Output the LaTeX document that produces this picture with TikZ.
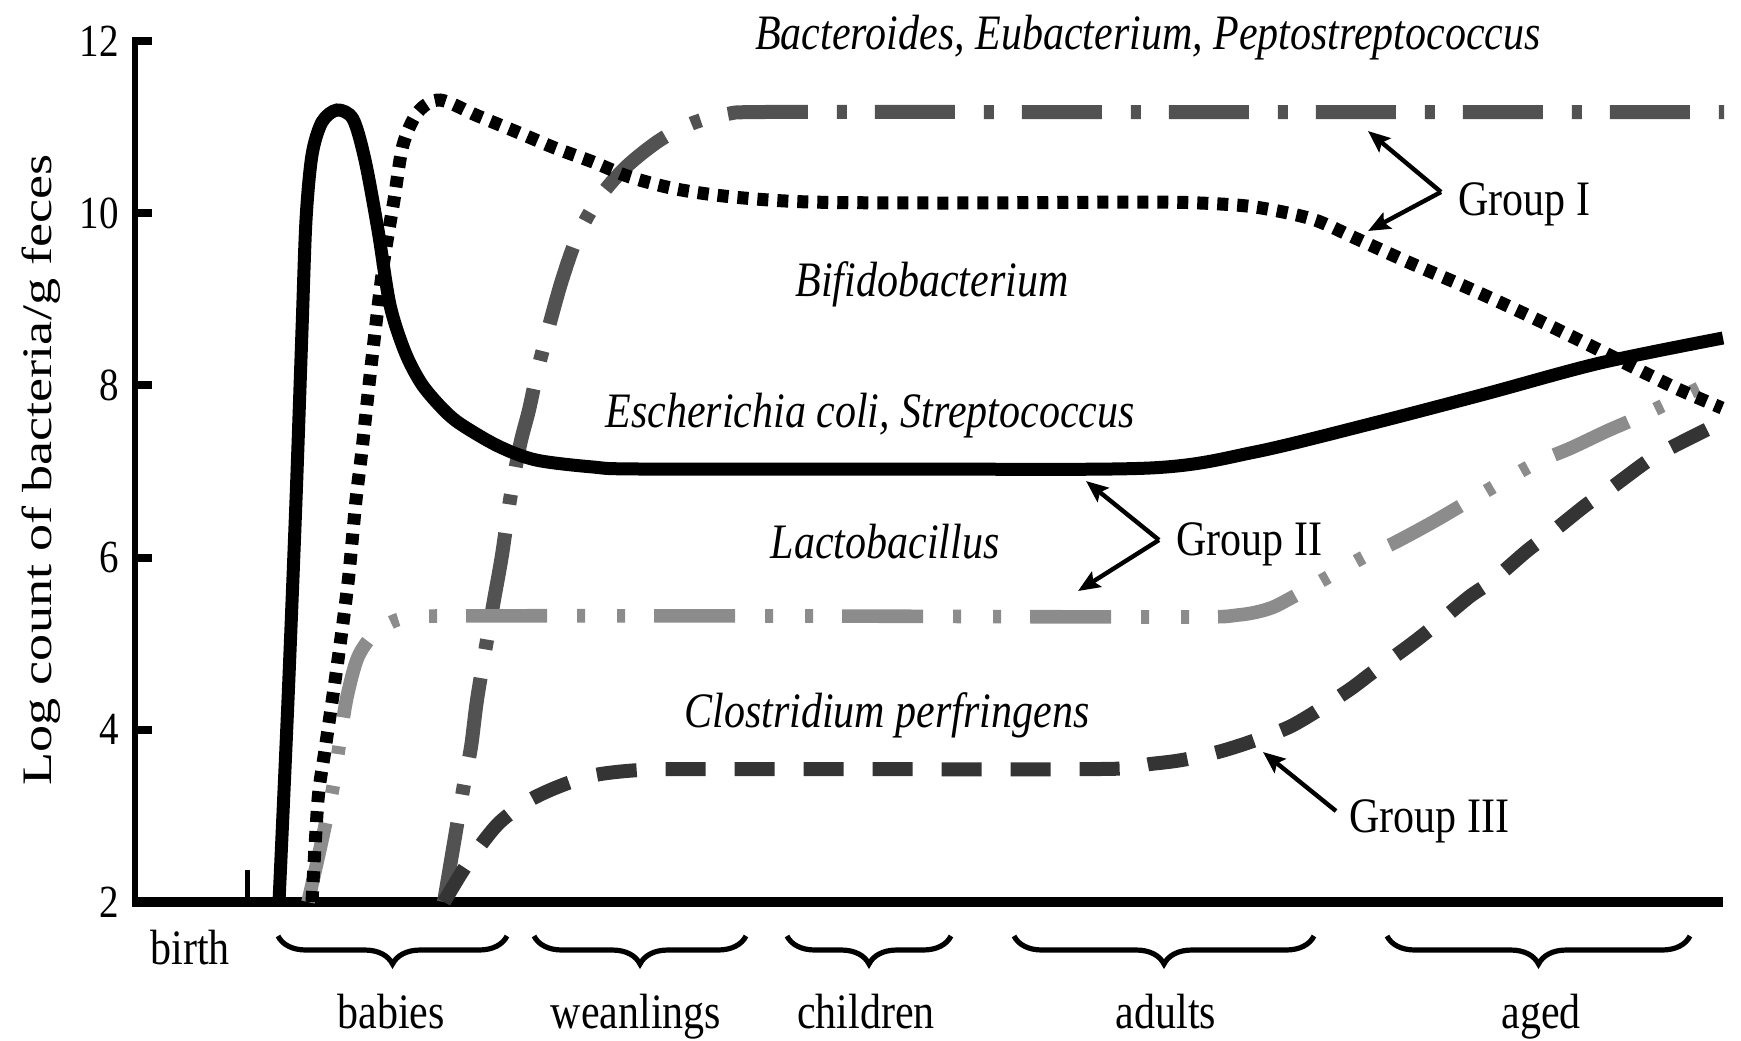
\documentclass[tikz,border=0pt]{standalone}
\usepackage{fontspec}
\setmainfont{Liberation Serif}
\usetikzlibrary{arrows.meta,decorations.pathreplacing}
% text in this figure is set slightly taller than wide
\newcommand{\vstretch}[1]{\scalebox{1}[1.18]{#1}}
\definecolor{bactgray}{RGB}{82,82,82}
\definecolor{lactgray}{RGB}{140,140,140}
\definecolor{closgray}{RGB}{52,52,52}
\tikzset{
  lbl/.style={inner sep=0pt, font=\fontsize{21}{25}\selectfont},
  species/.style={inner sep=0pt, anchor=base, font=\fontsize{21}{25}\selectfont\itshape},
  ticklbl/.style={inner sep=0pt, anchor=base east, font=\fontsize{19.5}{24}\selectfont},
  yaxisline/.style={line width=3.4pt},
  xaxisline/.style={line width=5pt},
  tickmark/.style={line width=4pt},
  curveE/.style={line width=6.5pt, black},
  curveBifido/.style={line width=6.5pt, black, dash pattern=on 5.5pt off 4.5pt},
  curveBact/.style={line width=7pt, bactgray, dash pattern=on 40pt off 14.5pt on 5pt off 14pt},
  curveLacto/.style={line width=6.8pt, lactgray, dash pattern=on 40.5pt off 15pt on 4pt off 16pt on 4pt off 14.5pt},
  curveClos/.style={line width=7pt, closgray, dash pattern=on 20pt off 14.5pt},
  pointer/.style={line width=2.2pt, -{Stealth[length=11pt,width=9pt,inset=2pt]}},
  agebrace/.style={line width=2.6pt, decorate, decoration={brace, mirror, amplitude=14pt}},
}
\begin{document}
\begin{tikzpicture}[x=0.5pt,y=-0.5pt]
\useasboundingbox (0,0) rectangle (1741,1040);

% axes
\draw[yaxisline] (135,37) -- (135,907);
\draw[xaxisline] (131.6,902) -- (1723,902);
\foreach \yy in {41,213.2,385.4,557.6,729.8}
  \draw[tickmark] (135,\yy) -- (152,\yy);
\draw[line width=2.5pt] (247,870) -- (247,902);

% tick labels
\node[ticklbl] (t12) at (119,56) {\vstretch{12}};
\node[ticklbl] (t10) at (119,228.2) {\vstretch{10}};
\node[ticklbl] (t8)  at (119,400.4) {\vstretch{8}};
\node[ticklbl] (t6)  at (119,572.6) {\vstretch{6}};
\node[ticklbl] (t4)  at (119,744.8) {\vstretch{4}};
\node[ticklbl] (t2)  at (119,917) {\vstretch{2}};
\node[lbl, rotate=90] (ylab) at (41,470) {\scalebox{1.29}[1]{Log count of bacteria/g feces}};

% Bacteroides, Eubacterium, Peptostreptococcus
\draw[curveBact] plot[smooth, tension=0.5] coordinates {
  (444,902) (463,790) (471,747) (477,700) (487,640) (494,600) (502,555)
  (510,500) (520,445) (529,410) (537,373) (548,330) (562,280) (578,235)
  (599,198) (626,167) (660,140) (693,123) (727,114) (764,112) (1000,112) (1724,112)};

% Lactobacillus
\draw[curveLacto] plot[smooth, tension=0.5] coordinates {
  (308,902) (322,840) (333,787) (340,740) (347,697) (358,657) (375,633)
  (400,619) (440,616) (800,616) (1180,617) (1238,615) (1268,609) (1291,598)
  (1362,558) (1394,543) (1433,522) (1469,501) (1534,464) (1571,448)
  (1607,431) (1641,416) (1718,379)};

% Clostridium perfringens
\draw[curveClos] plot[smooth, tension=0.5] coordinates {
  (444,902) (462,872) (480,846) (500,822) (528,801) (560,786) (595,775)
  (640,770) (700,769) (1100,769) (1150,764) (1182,760) (1218,752) (1250,742)
  (1287,728) (1312,714) (1349,690) (1373,672) (1410,645) (1433,627)
  (1469,597) (1492,581) (1528,550) (1551,533) (1586,505) (1611,488)
  (1649,460) (1676,445) (1720,423)};

% Bifidobacterium
\draw[curveBifido] plot[smooth, tension=0.5] coordinates {
  (312,902) (318,800) (325,750) (337,667) (348,583) (356,500) (362,450)
  (371,367) (383,267) (394,200) (403,145) (418,112) (440,100) (478,116)
  (517,132) (555,148) (593,162) (630,177) (676,189) (733,197) (810,202)
  (950,203) (1140,202) (1200,203) (1255,207) (1312,219) (1355,238)
  (1408,262) (1466,287) (1523,313) (1585,343) (1643,372) (1680,390) (1722,408)};

% Escherichia coli, Streptococcus
\draw[curveE] plot[smooth, tension=0.5] coordinates {
  (279,902) (288,700) (296,500) (302,330) (306,220) (312,155) (322,122)
  (337,110) (353,119) (365,160) (378,230) (390,305) (405,352) (421,383)
  (440,406) (459,423) (498,446) (536,460) (593,467) (640,469) (900,469)
  (1150,468) (1255,452) (1370,424) (1485,394) (1600,363) (1723,338)};

% species names
\node[species] (nBact)  at (1148,49)  {\vstretch{Bacteroides, Eubacterium, Peptostreptococcus}};
\node[species] (nBifi)  at (932,296)  {\vstretch{Bifidobacterium}};
\node[species] (nEcoli) at (870,427)  {\vstretch{Escherichia coli, Streptococcus}};
\node[species] (nLacto) at (885,558)  {\vstretch{Lactobacillus}};
\node[species] (nClos)  at (887,727)  {\vstretch{Clostridium perfringens}};

% group labels and pointers
\node[lbl, anchor=base west] (g1) at (1458,215) {\vstretch{Group I}};
\node[lbl, anchor=base west] (g2) at (1176,555) {\vstretch{Group II}};
\node[lbl, anchor=base west] (g3) at (1349,832) {\vstretch{Group III}};

\coordinate (g1fork) at (1441,192);
\coordinate (g1top) at (1368,131);
\coordinate (g1low) at (1368,231);
\coordinate (g2fork) at (1159,540);
\coordinate (g2top) at (1086,481);
\coordinate (g2low) at (1078,591);
\coordinate (g3tail) at (1336,811);
\coordinate (g3tip) at (1263,752);
\draw[pointer] (g1fork) -- (g1top);
\draw[pointer] (g1fork) -- (g1low);
\draw[pointer] (g2fork) -- (g2top);
\draw[pointer] (g2fork) -- (g2low);
\draw[pointer] (g3tail) -- (g3tip);

% age groups
\node[lbl, anchor=base] (birth) at (190,964) {\vstretch{birth}};
\draw[agebrace] (278,936) -- (507,936) coordinate (bBabies);
\draw[agebrace] (534,936) -- (746,936) coordinate (bWean);
\draw[agebrace] (787,936) -- (951,936) coordinate (bChild);
\draw[agebrace] (1014,936) -- (1314,936) coordinate (bAdult);
\draw[agebrace] (1387,936) -- (1690,936) coordinate (bAged);
\node[lbl, anchor=base] (babies) at (391,1028) {\vstretch{babies}};
\node[lbl, anchor=base] (weanlings) at (636,1028) {\vstretch{weanlings}};
\node[lbl, anchor=base] (children) at (866,1028) {\vstretch{children}};
\node[lbl, anchor=base] (adults) at (1166,1028) {\vstretch{adults}};
\node[lbl, anchor=base] (aged) at (1541,1028) {\vstretch{aged}};
\end{tikzpicture}
\end{document}
